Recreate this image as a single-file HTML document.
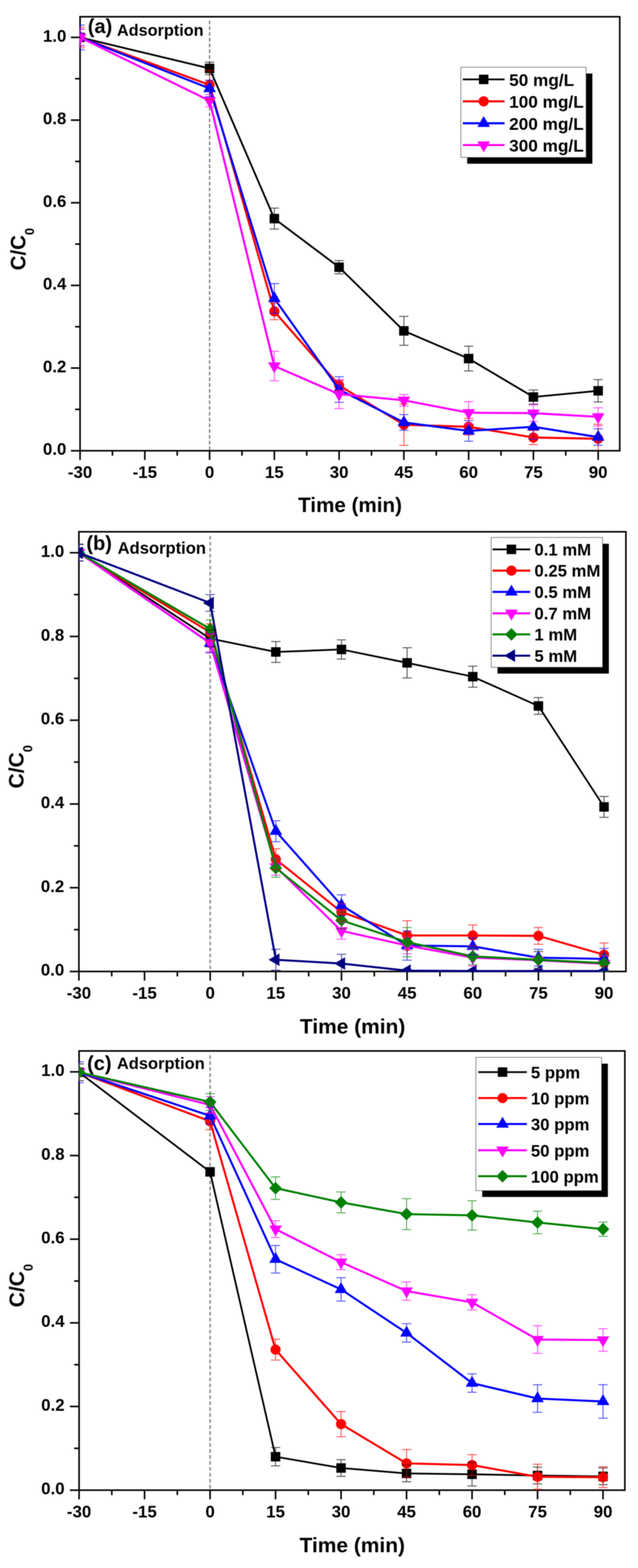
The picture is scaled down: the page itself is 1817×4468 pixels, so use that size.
<!DOCTYPE html>
<html lang="en">
<head>
<meta charset="utf-8">
<title>Adsorption and degradation kinetics</title>
<style>
html,body{margin:0;padding:0;background:#ffffff;}
body{width:1817px;height:4468px;}
figure{margin:0;padding:0;width:1817px;height:4468px;}
svg text{font-family:"Liberation Sans",sans-serif;font-weight:bold;fill:#000;}
</style>
</head>
<body>
<figure>
<svg width="1817" height="4468" viewBox="0 0 1817 4468" style="display:block" font-family='"Liberation Sans", sans-serif' font-weight="bold">
<defs><filter id="soft" x="0" y="0" width="1817" height="4468" filterUnits="userSpaceOnUse" color-interpolation-filters="sRGB"><feGaussianBlur stdDeviation="0.9"/></filter></defs>
<rect x="0" y="0" width="1817" height="4468" fill="#ffffff"/>
<g filter="url(#soft)">
<g id="chart-a">
<clipPath id="clip-a"><rect x="226.10" y="45.80" width="1540.80" height="1240.50"/></clipPath>
<line x1="596.88" y1="58.60" x2="596.88" y2="1284.4" stroke="#505050" stroke-width="2.7" stroke-dasharray="10.6 5.8"/>
<rect x="228.0" y="47.7" width="1537.0" height="1236.7" fill="none" stroke="#000" stroke-width="4.5"/>
<g clip-path="url(#clip-a)">
<polyline points="228.00,106.59 596.88,194.93 781.32,622.94 965.76,761.45 1150.20,942.84 1334.64,1021.75 1519.08,1131.28 1703.52,1113.62" fill="none" stroke="#000000" stroke-width="5.1" stroke-linejoin="round"/>
<rect x="214.50" y="93.09" width="27.00" height="27.00" fill="#000000"/>
<rect x="583.38" y="181.43" width="27.00" height="27.00" fill="#000000"/>
<rect x="767.82" y="609.44" width="27.00" height="27.00" fill="#000000"/>
<rect x="952.26" y="747.95" width="27.00" height="27.00" fill="#000000"/>
<rect x="1136.70" y="929.34" width="27.00" height="27.00" fill="#000000"/>
<rect x="1321.14" y="1008.25" width="27.00" height="27.00" fill="#000000"/>
<rect x="1505.58" y="1117.78" width="27.00" height="27.00" fill="#000000"/>
<rect x="1690.02" y="1100.12" width="27.00" height="27.00" fill="#000000"/>
<polyline points="228.00,106.59 596.88,242.04 781.32,887.48 965.76,1098.31 1150.20,1210.20 1334.64,1216.09 1519.08,1246.71 1703.52,1250.24" fill="none" stroke="#ff0000" stroke-width="5.9" stroke-linejoin="round"/>
<circle cx="228.00" cy="106.59" r="14.50" fill="#ff0000"/>
<circle cx="596.88" cy="242.04" r="14.50" fill="#ff0000"/>
<circle cx="781.32" cy="887.48" r="14.50" fill="#ff0000"/>
<circle cx="965.76" cy="1098.31" r="14.50" fill="#ff0000"/>
<circle cx="1150.20" cy="1210.20" r="14.50" fill="#ff0000"/>
<circle cx="1334.64" cy="1216.09" r="14.50" fill="#ff0000"/>
<circle cx="1519.08" cy="1246.71" r="14.50" fill="#ff0000"/>
<circle cx="1703.52" cy="1250.24" r="14.50" fill="#ff0000"/>
<polyline points="228.00,106.59 596.88,252.05 781.32,850.49 965.76,1110.08 1150.20,1203.72 1334.64,1227.87 1519.08,1216.09 1703.52,1245.53" fill="none" stroke="#0000ff" stroke-width="5.9" stroke-linejoin="round"/>
<polygon points="228.00,85.92 246.00,116.92 210.00,116.92" fill="#0000ff"/>
<polygon points="596.88,231.38 614.88,262.38 578.88,262.38" fill="#0000ff"/>
<polygon points="781.32,829.83 799.32,860.83 763.32,860.83" fill="#0000ff"/>
<polygon points="965.76,1089.42 983.76,1120.42 947.76,1120.42" fill="#0000ff"/>
<polygon points="1150.20,1183.05 1168.20,1214.05 1132.20,1214.05" fill="#0000ff"/>
<polygon points="1334.64,1207.20 1352.64,1238.20 1316.64,1238.20" fill="#0000ff"/>
<polygon points="1519.08,1195.42 1537.08,1226.42 1501.08,1226.42" fill="#0000ff"/>
<polygon points="1703.52,1224.87 1721.52,1255.87 1685.52,1255.87" fill="#0000ff"/>
<polyline points="228.00,106.59 596.88,286.80 781.32,1042.95 965.76,1123.04 1150.20,1140.71 1334.64,1176.04 1519.08,1177.22 1703.52,1187.82" fill="none" stroke="#ff00ff" stroke-width="5.9" stroke-linejoin="round"/>
<polygon points="228.00,127.26 246.00,96.26 210.00,96.26" fill="#ff00ff"/>
<polygon points="596.88,307.46 614.88,276.46 578.88,276.46" fill="#ff00ff"/>
<polygon points="781.32,1063.62 799.32,1032.62 763.32,1032.62" fill="#ff00ff"/>
<polygon points="965.76,1143.71 983.76,1112.71 947.76,1112.71" fill="#ff00ff"/>
<polygon points="1150.20,1161.37 1168.20,1130.37 1132.20,1130.37" fill="#ff00ff"/>
<polygon points="1334.64,1196.71 1352.64,1165.71 1316.64,1165.71" fill="#ff00ff"/>
<polygon points="1519.08,1197.89 1537.08,1166.89 1501.08,1166.89" fill="#ff00ff"/>
<polygon points="1703.52,1208.49 1721.52,1177.49 1685.52,1177.49" fill="#ff00ff"/>
<path d="M228.00,83.03V130.15M214.75,83.03h26.5M214.75,130.15h26.5M596.88,177.26V212.59M583.63,177.26h26.5M583.63,212.59h26.5M781.32,593.03V652.86M768.07,593.03h26.5M768.07,652.86h26.5M965.76,742.61V780.30M952.51,742.61h26.5M952.51,780.30h26.5M1150.20,901.61V984.06M1136.95,901.61h26.5M1136.95,984.06h26.5M1334.64,986.41V1057.08M1321.39,986.41h26.5M1321.39,1057.08h26.5M1519.08,1111.26V1151.31M1505.83,1111.26h26.5M1505.83,1151.31h26.5M1703.52,1081.82V1145.42M1690.27,1081.82h26.5M1690.27,1145.42h26.5" stroke="#000000" stroke-width="2.5" fill="none" opacity="0.72"/>
<path d="M228.00,77.15V136.04M214.75,77.15h26.5M214.75,136.04h26.5M596.88,200.82V283.26M583.63,200.82h26.5M583.63,283.26h26.5M781.32,863.92V911.03M768.07,863.92h26.5M768.07,911.03h26.5M965.76,1084.17V1112.44M952.51,1084.17h26.5M952.51,1112.44h26.5M1150.20,1151.31V1269.09M1136.95,1151.31h26.5M1136.95,1269.09h26.5M1334.64,1192.53V1239.64M1321.39,1192.53h26.5M1321.39,1239.64h26.5M1519.08,1226.69V1266.73M1505.83,1226.69h26.5M1505.83,1266.73h26.5M1703.52,1209.02V1291.47M1690.27,1209.02h26.5M1690.27,1291.47h26.5" stroke="#ff0000" stroke-width="2.5" fill="none" opacity="0.72"/>
<path d="M228.00,71.26V141.92M214.75,71.26h26.5M214.75,141.92h26.5M596.88,228.49V275.61M583.63,228.49h26.5M583.63,275.61h26.5M781.32,808.09V892.90M768.07,808.09h26.5M768.07,892.90h26.5M965.76,1073.57V1146.60M952.51,1073.57h26.5M952.51,1146.60h26.5M1150.20,1181.34V1226.10M1136.95,1181.34h26.5M1136.95,1226.10h26.5M1334.64,1198.42V1257.31M1321.39,1198.42h26.5M1321.39,1257.31h26.5M1519.08,1180.75V1251.42M1505.83,1180.75h26.5M1505.83,1251.42h26.5M1703.52,1221.98V1269.09M1690.27,1221.98h26.5M1690.27,1269.09h26.5" stroke="#0000ff" stroke-width="2.5" fill="none" opacity="0.72"/>
<path d="M228.00,83.03V130.15M214.75,83.03h26.5M214.75,130.15h26.5M596.88,269.13V304.46M583.63,269.13h26.5M583.63,304.46h26.5M781.32,1001.02V1084.88M768.07,1001.02h26.5M768.07,1084.88h26.5M965.76,1081.82V1164.26M952.51,1081.82h26.5M952.51,1164.26h26.5M1150.20,1124.22V1157.20M1136.95,1124.22h26.5M1136.95,1157.20h26.5M1334.64,1144.24V1207.84M1321.39,1144.24h26.5M1321.39,1207.84h26.5M1519.08,1153.66V1200.78M1505.83,1153.66h26.5M1505.83,1200.78h26.5M1703.52,1161.91V1213.73M1690.27,1161.91h26.5M1690.27,1213.73h26.5" stroke="#ff00ff" stroke-width="2.5" fill="none" opacity="0.72"/>
</g>
<text x="228.00" y="1362.40" font-size="48" text-anchor="middle">-30</text>
<text x="412.44" y="1362.40" font-size="48" text-anchor="middle">-15</text>
<text x="596.88" y="1362.40" font-size="48" text-anchor="middle">0</text>
<text x="781.32" y="1362.40" font-size="48" text-anchor="middle">15</text>
<text x="965.76" y="1362.40" font-size="48" text-anchor="middle">30</text>
<text x="1150.20" y="1362.40" font-size="48" text-anchor="middle">45</text>
<text x="1334.64" y="1362.40" font-size="48" text-anchor="middle">60</text>
<text x="1519.08" y="1362.40" font-size="48" text-anchor="middle">75</text>
<text x="1703.52" y="1362.40" font-size="48" text-anchor="middle">90</text>
<text x="189.00" y="1296.40" font-size="48" text-anchor="end">0.0</text>
<text x="189.00" y="1060.84" font-size="48" text-anchor="end">0.2</text>
<text x="189.00" y="825.28" font-size="48" text-anchor="end">0.4</text>
<text x="189.00" y="589.71" font-size="48" text-anchor="end">0.6</text>
<text x="189.00" y="354.15" font-size="48" text-anchor="end">0.8</text>
<text x="189.00" y="118.59" font-size="48" text-anchor="end">1.0</text>
<path d="M228.00,1284.4v26M412.44,1284.4v26M596.88,1284.4v26M781.32,1284.4v26M965.76,1284.4v26M1150.20,1284.4v26M1334.64,1284.4v26M1519.08,1284.4v26M1703.52,1284.4v26M320.22,1284.4v14M504.66,1284.4v14M689.10,1284.4v14M873.54,1284.4v14M1057.98,1284.4v14M1242.42,1284.4v14M1426.86,1284.4v14M1611.30,1284.4v14M228.0,1284.40h-26M228.0,1048.84h-26M228.0,813.28h-26M228.0,577.71h-26M228.0,342.15h-26M228.0,106.59h-26M228.0,1166.62h-14M228.0,931.06h-14M228.0,695.50h-14M228.0,459.93h-14M228.0,224.37h-14" stroke="#000" stroke-width="4.5" fill="none"/>
<text x="996.9" y="1459.3" font-size="58.7" text-anchor="middle">Time (min)</text>
<text transform="translate(72,710) rotate(-90)" font-size="58.3" text-anchor="middle">C/C<tspan font-size="36" dy="24.5">0</tspan></text>
<text x="250" y="93.5" font-size="57">(a)</text>
<text x="333" y="102.3" font-size="46.3">Adsorption</text>
<rect x="1330.5" y="209.5" width="356.5" height="257" fill="#000"/>
<rect x="1312.5" y="191.5" width="356.5" height="257" fill="#fff" stroke="#555" stroke-width="1.6"/>
<line x1="1318" y1="226.3" x2="1437" y2="226.3" stroke="#000000" stroke-width="5.1"/>
<rect x="1364.00" y="212.80" width="27.00" height="27.00" fill="#000000"/>
<text x="1450" y="244.60" font-size="49">50 mg/L</text>
<line x1="1318" y1="288.8" x2="1437" y2="288.8" stroke="#ff0000" stroke-width="5.9"/>
<circle cx="1377.50" cy="288.80" r="14.50" fill="#ff0000"/>
<text x="1450" y="307.10" font-size="49">100 mg/L</text>
<line x1="1318" y1="351.3" x2="1437" y2="351.3" stroke="#0000ff" stroke-width="5.9"/>
<polygon points="1377.50,330.63 1395.50,361.63 1359.50,361.63" fill="#0000ff"/>
<text x="1450" y="369.60" font-size="49">200 mg/L</text>
<line x1="1318" y1="413.4" x2="1437" y2="413.4" stroke="#ff00ff" stroke-width="5.9"/>
<polygon points="1377.50,434.07 1395.50,403.07 1359.50,403.07" fill="#ff00ff"/>
<text x="1450" y="431.70" font-size="49">300 mg/L</text>
</g>
<g id="chart-b">
<clipPath id="clip-b"><rect x="222.80" y="1513.40" width="1561.70" height="1256.70"/></clipPath>
<line x1="598.60" y1="1527.30" x2="598.60" y2="2768.2" stroke="#8c8c8c" stroke-width="4.4" stroke-dasharray="10.2 6.8"/>
<rect x="224.7" y="1515.3" width="1557.8999999999999" height="1252.8999999999999" fill="none" stroke="#000" stroke-width="4.5"/>
<g clip-path="url(#clip-b)">
<polyline points="224.70,1574.96 598.60,1819.58 785.54,1857.76 972.49,1850.60 1159.44,1888.78 1346.39,1928.16 1533.34,2011.69 1720.28,2299.26" fill="none" stroke="#000000" stroke-width="5.0" stroke-linejoin="round"/>
<rect x="211.20" y="1561.46" width="27.00" height="27.00" fill="#000000"/>
<rect x="585.10" y="1806.08" width="27.00" height="27.00" fill="#000000"/>
<rect x="772.04" y="1844.26" width="27.00" height="27.00" fill="#000000"/>
<rect x="958.99" y="1837.10" width="27.00" height="27.00" fill="#000000"/>
<rect x="1145.94" y="1875.28" width="27.00" height="27.00" fill="#000000"/>
<rect x="1332.89" y="1914.66" width="27.00" height="27.00" fill="#000000"/>
<rect x="1519.84" y="1998.19" width="27.00" height="27.00" fill="#000000"/>
<rect x="1706.78" y="2285.76" width="27.00" height="27.00" fill="#000000"/>
<polyline points="224.70,1574.96 598.60,1801.68 785.54,2448.41 972.49,2598.76 1159.44,2665.58 1346.39,2665.58 1533.34,2666.77 1720.28,2720.47" fill="none" stroke="#ff0000" stroke-width="5.8" stroke-linejoin="round"/>
<circle cx="224.70" cy="1574.96" r="14.50" fill="#ff0000"/>
<circle cx="598.60" cy="1801.68" r="14.50" fill="#ff0000"/>
<circle cx="785.54" cy="2448.41" r="14.50" fill="#ff0000"/>
<circle cx="972.49" cy="2598.76" r="14.50" fill="#ff0000"/>
<circle cx="1159.44" cy="2665.58" r="14.50" fill="#ff0000"/>
<circle cx="1346.39" cy="2665.58" r="14.50" fill="#ff0000"/>
<circle cx="1533.34" cy="2666.77" r="14.50" fill="#ff0000"/>
<circle cx="1720.28" cy="2720.47" r="14.50" fill="#ff0000"/>
<polyline points="224.70,1574.96 598.60,1832.70 785.54,2368.47 972.49,2579.67 1159.44,2694.22 1346.39,2696.61 1533.34,2728.82 1720.28,2732.40" fill="none" stroke="#0000ff" stroke-width="5.8" stroke-linejoin="round"/>
<polygon points="224.70,1554.30 242.70,1585.30 206.70,1585.30" fill="#0000ff"/>
<polygon points="598.60,1812.03 616.60,1843.03 580.60,1843.03" fill="#0000ff"/>
<polygon points="785.54,2347.80 803.54,2378.80 767.54,2378.80" fill="#0000ff"/>
<polygon points="972.49,2559.00 990.49,2590.00 954.49,2590.00" fill="#0000ff"/>
<polygon points="1159.44,2673.55 1177.44,2704.55 1141.44,2704.55" fill="#0000ff"/>
<polygon points="1346.39,2675.94 1364.39,2706.94 1328.39,2706.94" fill="#0000ff"/>
<polygon points="1533.34,2708.16 1551.34,2739.16 1515.34,2739.16" fill="#0000ff"/>
<polygon points="1720.28,2711.74 1738.28,2742.74 1702.28,2742.74" fill="#0000ff"/>
<polyline points="224.70,1574.96 598.60,1832.10 785.54,2469.89 972.49,2652.46 1159.44,2694.22 1346.39,2728.82 1533.34,2735.98 1720.28,2746.72" fill="none" stroke="#ff00ff" stroke-width="5.8" stroke-linejoin="round"/>
<polygon points="224.70,1595.63 242.70,1564.63 206.70,1564.63" fill="#ff00ff"/>
<polygon points="598.60,1852.77 616.60,1821.77 580.60,1821.77" fill="#ff00ff"/>
<polygon points="785.54,2490.56 803.54,2459.56 767.54,2459.56" fill="#ff00ff"/>
<polygon points="972.49,2673.12 990.49,2642.12 954.49,2642.12" fill="#ff00ff"/>
<polygon points="1159.44,2714.89 1177.44,2683.89 1141.44,2683.89" fill="#ff00ff"/>
<polygon points="1346.39,2749.49 1364.39,2718.49 1328.39,2718.49" fill="#ff00ff"/>
<polygon points="1533.34,2756.65 1551.34,2725.65 1515.34,2725.65" fill="#ff00ff"/>
<polygon points="1720.28,2767.39 1738.28,2736.39 1702.28,2736.39" fill="#ff00ff"/>
<polyline points="224.70,1574.96 598.60,1792.13 785.54,2473.47 972.49,2622.62 1159.44,2684.67 1346.39,2725.24 1533.34,2734.79 1720.28,2744.34" fill="none" stroke="#008000" stroke-width="5.8" stroke-linejoin="round"/>
<polygon points="224.70,1556.96 242.70,1574.96 224.70,1592.96 206.70,1574.96" fill="#008000"/>
<polygon points="598.60,1774.13 616.60,1792.13 598.60,1810.13 580.60,1792.13" fill="#008000"/>
<polygon points="785.54,2455.47 803.54,2473.47 785.54,2491.47 767.54,2473.47" fill="#008000"/>
<polygon points="972.49,2604.62 990.49,2622.62 972.49,2640.62 954.49,2622.62" fill="#008000"/>
<polygon points="1159.44,2666.67 1177.44,2684.67 1159.44,2702.67 1141.44,2684.67" fill="#008000"/>
<polygon points="1346.39,2707.24 1364.39,2725.24 1346.39,2743.24 1328.39,2725.24" fill="#008000"/>
<polygon points="1533.34,2716.79 1551.34,2734.79 1533.34,2752.79 1515.34,2734.79" fill="#008000"/>
<polygon points="1720.28,2726.34 1738.28,2744.34 1720.28,2762.34 1702.28,2744.34" fill="#008000"/>
<polyline points="224.70,1574.96 598.60,1718.15 785.54,2734.79 972.49,2745.53 1159.44,2765.81 1346.39,2767.01 1533.34,2767.01 1720.28,2767.01" fill="none" stroke="#000080" stroke-width="5.8" stroke-linejoin="round"/>
<polygon points="204.03,1574.96 235.03,1556.96 235.03,1592.96" fill="#000080"/>
<polygon points="577.93,1718.15 608.93,1700.15 608.93,1736.15" fill="#000080"/>
<polygon points="764.88,2734.79 795.88,2716.79 795.88,2752.79" fill="#000080"/>
<polygon points="951.83,2745.53 982.83,2727.53 982.83,2763.53" fill="#000080"/>
<polygon points="1138.77,2765.81 1169.77,2747.81 1169.77,2783.81" fill="#000080"/>
<polygon points="1325.72,2767.01 1356.72,2749.01 1356.72,2785.01" fill="#000080"/>
<polygon points="1512.67,2767.01 1543.67,2749.01 1543.67,2785.01" fill="#000080"/>
<polygon points="1699.62,2767.01 1730.62,2749.01 1730.62,2785.01" fill="#000080"/>
<path d="M224.70,1551.10V1598.83M211.45,1551.10h26.5M211.45,1598.83h26.5M598.60,1795.71V1843.44M585.35,1795.71h26.5M585.35,1843.44h26.5M785.54,1827.93V1887.59M772.29,1827.93h26.5M772.29,1887.59h26.5M972.49,1823.16V1878.04M959.24,1823.16h26.5M959.24,1878.04h26.5M1159.44,1845.83V1931.74M1146.19,1845.83h26.5M1146.19,1931.74h26.5M1346.39,1898.33V1957.99M1333.14,1898.33h26.5M1333.14,1957.99h26.5M1533.34,1987.82V2035.55M1520.09,1987.82h26.5M1520.09,2035.55h26.5M1720.28,2269.43V2329.09M1707.03,2269.43h26.5M1707.03,2329.09h26.5" stroke="#000000" stroke-width="2.5" fill="none" opacity="0.72"/>
<path d="M224.70,1551.10V1598.83M211.45,1551.10h26.5M211.45,1598.83h26.5M598.60,1777.81V1825.54M585.35,1777.81h26.5M585.35,1825.54h26.5M785.54,2418.58V2478.24M772.29,2418.58h26.5M772.29,2478.24h26.5M972.49,2574.90V2622.62M959.24,2574.90h26.5M959.24,2622.62h26.5M1159.44,2623.82V2707.34M1146.19,2623.82h26.5M1146.19,2707.34h26.5M1346.39,2635.75V2695.41M1333.14,2635.75h26.5M1333.14,2695.41h26.5M1533.34,2642.91V2690.64M1520.09,2642.91h26.5M1520.09,2690.64h26.5M1720.28,2687.06V2753.88M1707.03,2687.06h26.5M1707.03,2753.88h26.5" stroke="#ff0000" stroke-width="2.5" fill="none" opacity="0.72"/>
<path d="M224.70,1551.10V1598.83M211.45,1551.10h26.5M211.45,1598.83h26.5M598.60,1805.26V1860.15M585.35,1805.26h26.5M585.35,1860.15h26.5M785.54,2338.63V2398.30M772.29,2338.63h26.5M772.29,2398.30h26.5M972.49,2549.84V2609.50M959.24,2549.84h26.5M959.24,2609.50h26.5M1159.44,2652.46V2735.98M1146.19,2652.46h26.5M1146.19,2735.98h26.5M1346.39,2672.74V2720.47M1333.14,2672.74h26.5M1333.14,2720.47h26.5M1533.34,2704.96V2752.69M1520.09,2704.96h26.5M1520.09,2752.69h26.5M1720.28,2702.57V2762.23M1707.03,2702.57h26.5M1707.03,2762.23h26.5" stroke="#0000ff" stroke-width="2.5" fill="none" opacity="0.72"/>
<path d="M224.70,1551.10V1598.83M211.45,1551.10h26.5M211.45,1598.83h26.5M598.60,1807.05V1857.16M585.35,1807.05h26.5M585.35,1857.16h26.5M785.54,2446.03V2493.76M772.29,2446.03h26.5M772.29,2493.76h26.5M972.49,2628.59V2676.32M959.24,2628.59h26.5M959.24,2676.32h26.5M1159.44,2670.35V2718.08M1146.19,2670.35h26.5M1146.19,2718.08h26.5M1346.39,2704.96V2752.69M1333.14,2704.96h26.5M1333.14,2752.69h26.5M1533.34,2712.12V2759.85M1520.09,2712.12h26.5M1520.09,2759.85h26.5M1720.28,2722.86V2770.59M1707.03,2722.86h26.5M1707.03,2770.59h26.5" stroke="#ff00ff" stroke-width="2.5" fill="none" opacity="0.72"/>
<path d="M224.70,1551.10V1598.83M211.45,1551.10h26.5M211.45,1598.83h26.5M598.60,1765.88V1818.38M585.35,1765.88h26.5M585.35,1818.38h26.5M785.54,2447.22V2499.72M772.29,2447.22h26.5M772.29,2499.72h26.5M972.49,2598.76V2646.49M959.24,2598.76h26.5M959.24,2646.49h26.5M1159.44,2642.91V2726.44M1146.19,2642.91h26.5M1146.19,2726.44h26.5M1346.39,2701.38V2749.11M1333.14,2701.38h26.5M1333.14,2749.11h26.5M1533.34,2710.92V2758.65M1520.09,2710.92h26.5M1520.09,2758.65h26.5M1720.28,2720.47V2768.20M1707.03,2720.47h26.5M1707.03,2768.20h26.5" stroke="#008000" stroke-width="2.5" fill="none" opacity="0.72"/>
<path d="M224.70,1551.10V1598.83M211.45,1551.10h26.5M211.45,1598.83h26.5M598.60,1694.29V1742.02M585.35,1694.29h26.5M585.35,1742.02h26.5M785.54,2704.96V2764.62M772.29,2704.96h26.5M772.29,2764.62h26.5M972.49,2719.28V2771.78M959.24,2719.28h26.5M959.24,2771.78h26.5M1159.44,2762.23V2769.39M1146.19,2762.23h26.5M1146.19,2769.39h26.5M1346.39,2763.43V2770.59M1333.14,2763.43h26.5M1333.14,2770.59h26.5M1533.34,2763.43V2770.59M1520.09,2763.43h26.5M1520.09,2770.59h26.5M1720.28,2763.43V2770.59M1707.03,2763.43h26.5M1707.03,2770.59h26.5" stroke="#000080" stroke-width="2.5" fill="none" opacity="0.72"/>
</g>
<text x="224.70" y="2846.20" font-size="48" text-anchor="middle">-30</text>
<text x="411.65" y="2846.20" font-size="48" text-anchor="middle">-15</text>
<text x="598.60" y="2846.20" font-size="48" text-anchor="middle">0</text>
<text x="785.54" y="2846.20" font-size="48" text-anchor="middle">15</text>
<text x="972.49" y="2846.20" font-size="48" text-anchor="middle">30</text>
<text x="1159.44" y="2846.20" font-size="48" text-anchor="middle">45</text>
<text x="1346.39" y="2846.20" font-size="48" text-anchor="middle">60</text>
<text x="1533.34" y="2846.20" font-size="48" text-anchor="middle">75</text>
<text x="1720.28" y="2846.20" font-size="48" text-anchor="middle">90</text>
<text x="183.00" y="2780.20" font-size="48" text-anchor="end">0.0</text>
<text x="183.00" y="2541.55" font-size="48" text-anchor="end">0.2</text>
<text x="183.00" y="2302.90" font-size="48" text-anchor="end">0.4</text>
<text x="183.00" y="2064.26" font-size="48" text-anchor="end">0.6</text>
<text x="183.00" y="1825.61" font-size="48" text-anchor="end">0.8</text>
<text x="183.00" y="1586.96" font-size="48" text-anchor="end">1.0</text>
<path d="M224.70,2768.2v26M411.65,2768.2v26M598.60,2768.2v26M785.54,2768.2v26M972.49,2768.2v26M1159.44,2768.2v26M1346.39,2768.2v26M1533.34,2768.2v26M1720.28,2768.2v26M318.17,2768.2v14M505.12,2768.2v14M692.07,2768.2v14M879.02,2768.2v14M1065.97,2768.2v14M1252.91,2768.2v14M1439.86,2768.2v14M1626.81,2768.2v14M224.7,2768.20h-26M224.7,2529.55h-26M224.7,2290.90h-26M224.7,2052.26h-26M224.7,1813.61h-26M224.7,1574.96h-26M224.7,2648.88h-14M224.7,2410.23h-14M224.7,2171.58h-14M224.7,1932.93h-14M224.7,1694.29h-14" stroke="#000" stroke-width="4.5" fill="none"/>
<text x="1004.2" y="2945" font-size="59.6" text-anchor="middle">Time (min)</text>
<text transform="translate(66.8,2185) rotate(-90)" font-size="60" text-anchor="middle">C/C<tspan font-size="36" dy="24.5">0</tspan></text>
<text x="246" y="1566.8" font-size="57">(b)</text>
<text x="335" y="1578.2" font-size="47.2">Adsorption</text>
<rect x="1416.8" y="1549.5" width="317.2" height="369.8" fill="#000"/>
<rect x="1398.8" y="1531.5" width="317.2" height="369.8" fill="#fff" stroke="#555" stroke-width="1.6"/>
<line x1="1402.6" y1="1565.4" x2="1510" y2="1565.4" stroke="#000000" stroke-width="5.0"/>
<rect x="1443.00" y="1551.90" width="27.00" height="27.00" fill="#000000"/>
<text x="1522" y="1582.70" font-size="47.6">0.1 mM</text>
<line x1="1402.6" y1="1626" x2="1510" y2="1626" stroke="#ff0000" stroke-width="5.8"/>
<circle cx="1456.50" cy="1626.00" r="14.50" fill="#ff0000"/>
<text x="1522" y="1643.30" font-size="47.6">0.25 mM</text>
<line x1="1402.6" y1="1686.6" x2="1510" y2="1686.6" stroke="#0000ff" stroke-width="5.8"/>
<polygon points="1456.50,1665.93 1474.50,1696.93 1438.50,1696.93" fill="#0000ff"/>
<text x="1522" y="1703.90" font-size="47.6">0.5 mM</text>
<line x1="1402.6" y1="1747.6" x2="1510" y2="1747.6" stroke="#ff00ff" stroke-width="5.8"/>
<polygon points="1456.50,1768.27 1474.50,1737.27 1438.50,1737.27" fill="#ff00ff"/>
<text x="1522" y="1764.90" font-size="47.6">0.7 mM</text>
<line x1="1402.6" y1="1807.7" x2="1510" y2="1807.7" stroke="#008000" stroke-width="5.8"/>
<polygon points="1456.50,1789.70 1474.50,1807.70 1456.50,1825.70 1438.50,1807.70" fill="#008000"/>
<text x="1522" y="1825.00" font-size="47.6">1 mM</text>
<line x1="1402.6" y1="1868.3" x2="1510" y2="1868.3" stroke="#000080" stroke-width="5.8"/>
<polygon points="1435.83,1868.30 1466.83,1850.30 1466.83,1886.30" fill="#000080"/>
<text x="1522" y="1885.60" font-size="47.6">5 mM</text>
</g>
<g id="chart-c">
<clipPath id="clip-c"><rect x="223.30" y="2992.80" width="1558.20" height="1255.30"/></clipPath>
<line x1="598.26" y1="3007.20" x2="598.26" y2="4246.2" stroke="#8c8c8c" stroke-width="4.4" stroke-dasharray="10.2 6.8"/>
<rect x="225.2" y="2994.7" width="1554.3999999999999" height="1251.5" fill="none" stroke="#000" stroke-width="4.5"/>
<g clip-path="url(#clip-c)">
<polyline points="225.20,3055.50 598.26,3339.17 784.78,4150.86 971.31,4183.04 1157.84,4198.53 1344.37,4200.92 1530.90,4204.49 1717.42,4206.88" fill="none" stroke="#000000" stroke-width="5.0" stroke-linejoin="round"/>
<rect x="211.70" y="3042.00" width="27.00" height="27.00" fill="#000000"/>
<rect x="584.76" y="3325.67" width="27.00" height="27.00" fill="#000000"/>
<rect x="771.28" y="4137.36" width="27.00" height="27.00" fill="#000000"/>
<rect x="957.81" y="4169.54" width="27.00" height="27.00" fill="#000000"/>
<rect x="1144.34" y="4185.03" width="27.00" height="27.00" fill="#000000"/>
<rect x="1330.87" y="4187.42" width="27.00" height="27.00" fill="#000000"/>
<rect x="1517.40" y="4190.99" width="27.00" height="27.00" fill="#000000"/>
<rect x="1703.92" y="4193.38" width="27.00" height="27.00" fill="#000000"/>
<polyline points="225.20,3055.50 598.26,3194.95 784.78,3845.73 971.31,4057.89 1157.84,4169.93 1344.37,4174.69 1530.90,4208.07 1717.42,4209.26" fill="none" stroke="#ff0000" stroke-width="5.8" stroke-linejoin="round"/>
<circle cx="225.20" cy="3055.50" r="14.50" fill="#ff0000"/>
<circle cx="598.26" cy="3194.95" r="14.50" fill="#ff0000"/>
<circle cx="784.78" cy="3845.73" r="14.50" fill="#ff0000"/>
<circle cx="971.31" cy="4057.89" r="14.50" fill="#ff0000"/>
<circle cx="1157.84" cy="4169.93" r="14.50" fill="#ff0000"/>
<circle cx="1344.37" cy="4174.69" r="14.50" fill="#ff0000"/>
<circle cx="1530.90" cy="4208.07" r="14.50" fill="#ff0000"/>
<circle cx="1717.42" cy="4209.26" r="14.50" fill="#ff0000"/>
<polyline points="225.20,3055.50 598.26,3179.45 784.78,3588.28 971.31,3674.09 1157.84,3798.05 1344.37,3941.08 1530.90,3985.18 1717.42,3993.52" fill="none" stroke="#0000ff" stroke-width="5.8" stroke-linejoin="round"/>
<polygon points="225.20,3034.83 243.20,3065.83 207.20,3065.83" fill="#0000ff"/>
<polygon points="598.26,3158.79 616.26,3189.79 580.26,3189.79" fill="#0000ff"/>
<polygon points="784.78,3567.61 802.78,3598.61 766.78,3598.61" fill="#0000ff"/>
<polygon points="971.31,3653.43 989.31,3684.43 953.31,3684.43" fill="#0000ff"/>
<polygon points="1157.84,3777.39 1175.84,3808.39 1139.84,3808.39" fill="#0000ff"/>
<polygon points="1344.37,3920.41 1362.37,3951.41 1326.37,3951.41" fill="#0000ff"/>
<polygon points="1530.90,3964.51 1548.90,3995.51 1512.90,3995.51" fill="#0000ff"/>
<polygon points="1717.42,3972.86 1735.42,4003.86 1699.42,4003.86" fill="#0000ff"/>
<polyline points="225.20,3055.50 598.26,3148.46 784.78,3502.46 971.31,3596.62 1157.84,3678.86 1344.37,3711.04 1530.90,3817.12 1717.42,3818.31" fill="none" stroke="#ff00ff" stroke-width="5.8" stroke-linejoin="round"/>
<polygon points="225.20,3076.16 243.20,3045.16 207.20,3045.16" fill="#ff00ff"/>
<polygon points="598.26,3169.13 616.26,3138.13 580.26,3138.13" fill="#ff00ff"/>
<polygon points="784.78,3523.13 802.78,3492.13 766.78,3492.13" fill="#ff00ff"/>
<polygon points="971.31,3617.29 989.31,3586.29 953.31,3586.29" fill="#ff00ff"/>
<polygon points="1157.84,3699.53 1175.84,3668.53 1139.84,3668.53" fill="#ff00ff"/>
<polygon points="1344.37,3731.71 1362.37,3700.71 1326.37,3700.71" fill="#ff00ff"/>
<polygon points="1530.90,3837.79 1548.90,3806.79 1512.90,3806.79" fill="#ff00ff"/>
<polygon points="1717.42,3838.98 1735.42,3807.98 1699.42,3807.98" fill="#ff00ff"/>
<polyline points="225.20,3055.50 598.26,3140.12 784.78,3385.65 971.31,3426.18 1157.84,3459.55 1344.37,3463.13 1530.90,3483.39 1717.42,3502.46" fill="none" stroke="#008000" stroke-width="5.8" stroke-linejoin="round"/>
<polygon points="225.20,3037.50 243.20,3055.50 225.20,3073.50 207.20,3055.50" fill="#008000"/>
<polygon points="598.26,3122.12 616.26,3140.12 598.26,3158.12 580.26,3140.12" fill="#008000"/>
<polygon points="784.78,3367.65 802.78,3385.65 784.78,3403.65 766.78,3385.65" fill="#008000"/>
<polygon points="971.31,3408.18 989.31,3426.18 971.31,3444.18 953.31,3426.18" fill="#008000"/>
<polygon points="1157.84,3441.55 1175.84,3459.55 1157.84,3477.55 1139.84,3459.55" fill="#008000"/>
<polygon points="1344.37,3445.13 1362.37,3463.13 1344.37,3481.13 1326.37,3463.13" fill="#008000"/>
<polygon points="1530.90,3465.39 1548.90,3483.39 1530.90,3501.39 1512.90,3483.39" fill="#008000"/>
<polygon points="1717.42,3484.46 1735.42,3502.46 1717.42,3520.46 1699.42,3502.46" fill="#008000"/>
<path d="M225.20,3031.66V3079.33M211.95,3031.66h26.5M211.95,3079.33h26.5M598.26,3329.63V3348.70M585.01,3329.63h26.5M585.01,3348.70h26.5M784.78,4124.63V4177.08M771.53,4124.63h26.5M771.53,4177.08h26.5M971.31,4159.20V4206.88M958.06,4159.20h26.5M958.06,4206.88h26.5M1157.84,4174.69V4222.37M1144.59,4174.69h26.5M1144.59,4222.37h26.5M1344.37,4167.54V4234.29M1331.12,4167.54h26.5M1331.12,4234.29h26.5M1530.90,4180.65V4228.33M1517.65,4180.65h26.5M1517.65,4228.33h26.5M1717.42,4183.04V4230.71M1704.17,4183.04h26.5M1704.17,4230.71h26.5" stroke="#000000" stroke-width="2.5" fill="none" opacity="0.72"/>
<path d="M225.20,3031.66V3079.33M211.95,3031.66h26.5M211.95,3079.33h26.5M598.26,3171.11V3218.79M585.01,3171.11h26.5M585.01,3218.79h26.5M784.78,3815.93V3875.53M771.53,3815.93h26.5M771.53,3875.53h26.5M971.31,4022.13V4093.64M958.06,4022.13h26.5M958.06,4093.64h26.5M1157.84,4130.59V4209.26M1144.59,4130.59h26.5M1144.59,4209.26h26.5M1344.37,4144.90V4204.49M1331.12,4144.90h26.5M1331.12,4204.49h26.5M1530.90,4172.31V4243.82M1517.65,4172.31h26.5M1517.65,4243.82h26.5M1717.42,4179.46V4239.06M1704.17,4179.46h26.5M1704.17,4239.06h26.5" stroke="#ff0000" stroke-width="2.5" fill="none" opacity="0.72"/>
<path d="M225.20,3025.70V3085.29M211.95,3025.70h26.5M211.95,3085.29h26.5M598.26,3155.62V3203.29M585.01,3155.62h26.5M585.01,3203.29h26.5M784.78,3548.94V3627.61M771.53,3548.94h26.5M771.53,3627.61h26.5M971.31,3640.72V3707.47M958.06,3640.72h26.5M958.06,3707.47h26.5M1157.84,3771.83V3824.27M1144.59,3771.83h26.5M1144.59,3824.27h26.5M1344.37,3914.86V3967.30M1331.12,3914.86h26.5M1331.12,3967.30h26.5M1530.90,3945.85V4024.51M1517.65,3945.85h26.5M1517.65,4024.51h26.5M1717.42,3945.85V4041.20M1704.17,3945.85h26.5M1704.17,4041.20h26.5" stroke="#0000ff" stroke-width="2.5" fill="none" opacity="0.72"/>
<path d="M225.20,3031.66V3079.33M211.95,3031.66h26.5M211.95,3079.33h26.5M598.26,3124.63V3172.30M585.01,3124.63h26.5M585.01,3172.30h26.5M784.78,3478.62V3526.30M771.53,3478.62h26.5M771.53,3526.30h26.5M971.31,3575.17V3618.07M958.06,3575.17h26.5M958.06,3618.07h26.5M1157.84,3652.64V3705.08M1144.59,3652.64h26.5M1144.59,3705.08h26.5M1344.37,3689.59V3732.50M1331.12,3689.59h26.5M1331.12,3732.50h26.5M1530.90,3777.79V3856.46M1517.65,3777.79h26.5M1517.65,3856.46h26.5M1717.42,3786.13V3850.50M1704.17,3786.13h26.5M1704.17,3850.50h26.5" stroke="#ff00ff" stroke-width="2.5" fill="none" opacity="0.72"/>
<path d="M225.20,3031.66V3079.33M211.95,3031.66h26.5M211.95,3079.33h26.5M598.26,3116.28V3163.96M585.01,3116.28h26.5M585.01,3163.96h26.5M784.78,3353.47V3417.83M771.53,3353.47h26.5M771.53,3417.83h26.5M971.31,3396.38V3455.98M958.06,3396.38h26.5M958.06,3455.98h26.5M1157.84,3415.45V3503.65M1144.59,3415.45h26.5M1144.59,3503.65h26.5M1344.37,3421.41V3504.84M1331.12,3421.41h26.5M1331.12,3504.84h26.5M1530.90,3451.21V3515.57M1517.65,3451.21h26.5M1517.65,3515.57h26.5M1717.42,3482.20V3522.72M1704.17,3482.20h26.5M1704.17,3522.72h26.5" stroke="#008000" stroke-width="2.5" fill="none" opacity="0.72"/>
</g>
<text x="225.20" y="4324.20" font-size="48" text-anchor="middle">-30</text>
<text x="411.73" y="4324.20" font-size="48" text-anchor="middle">-15</text>
<text x="598.26" y="4324.20" font-size="48" text-anchor="middle">0</text>
<text x="784.78" y="4324.20" font-size="48" text-anchor="middle">15</text>
<text x="971.31" y="4324.20" font-size="48" text-anchor="middle">30</text>
<text x="1157.84" y="4324.20" font-size="48" text-anchor="middle">45</text>
<text x="1344.37" y="4324.20" font-size="48" text-anchor="middle">60</text>
<text x="1530.90" y="4324.20" font-size="48" text-anchor="middle">75</text>
<text x="1717.42" y="4324.20" font-size="48" text-anchor="middle">90</text>
<text x="184.00" y="4258.20" font-size="48" text-anchor="end">0.0</text>
<text x="184.00" y="4019.82" font-size="48" text-anchor="end">0.2</text>
<text x="184.00" y="3781.44" font-size="48" text-anchor="end">0.4</text>
<text x="184.00" y="3543.06" font-size="48" text-anchor="end">0.6</text>
<text x="184.00" y="3304.68" font-size="48" text-anchor="end">0.8</text>
<text x="184.00" y="3066.30" font-size="48" text-anchor="end">1.0</text>
<path d="M225.20,4246.2v26M411.73,4246.2v26M598.26,4246.2v26M784.78,4246.2v26M971.31,4246.2v26M1157.84,4246.2v26M1344.37,4246.2v26M1530.90,4246.2v26M1717.42,4246.2v26M318.46,4246.2v14M504.99,4246.2v14M691.52,4246.2v14M878.05,4246.2v14M1064.58,4246.2v14M1251.10,4246.2v14M1437.63,4246.2v14M1624.16,4246.2v14M225.2,4246.20h-26M225.2,4007.82h-26M225.2,3769.44h-26M225.2,3531.06h-26M225.2,3292.68h-26M225.2,3054.30h-26M225.2,4127.01h-14M225.2,3888.63h-14M225.2,3650.25h-14M225.2,3411.87h-14M225.2,3173.49h-14" stroke="#000" stroke-width="4.5" fill="none"/>
<text x="1003.3" y="4422.6" font-size="59.6" text-anchor="middle">Time (min)</text>
<text transform="translate(68.2,3663.5) rotate(-90)" font-size="60" text-anchor="middle">C/C<tspan font-size="36" dy="24.5">0</tspan></text>
<text x="248" y="3049" font-size="57">(c)</text>
<text x="333" y="3046.2" font-size="46.9">Adsorption</text>
<rect x="1373.3" y="3030.9" width="357.9" height="379.8" fill="#000"/>
<rect x="1355.3" y="3012.9" width="357.9" height="379.8" fill="#fff" stroke="#555" stroke-width="1.6"/>
<line x1="1362" y1="3054.9" x2="1500.4" y2="3054.9" stroke="#000000" stroke-width="5.0"/>
<rect x="1417.70" y="3041.40" width="27.00" height="27.00" fill="#000000"/>
<text x="1512" y="3073.20" font-size="47.6">5 ppm</text>
<line x1="1362" y1="3128.9" x2="1500.4" y2="3128.9" stroke="#ff0000" stroke-width="5.8"/>
<circle cx="1431.20" cy="3128.90" r="14.50" fill="#ff0000"/>
<text x="1512" y="3147.20" font-size="47.6">10 ppm</text>
<line x1="1362" y1="3202.8" x2="1500.4" y2="3202.8" stroke="#0000ff" stroke-width="5.8"/>
<polygon points="1431.20,3182.13 1449.20,3213.13 1413.20,3213.13" fill="#0000ff"/>
<text x="1512" y="3221.10" font-size="47.6">30 ppm</text>
<line x1="1362" y1="3277.7" x2="1500.4" y2="3277.7" stroke="#ff00ff" stroke-width="5.8"/>
<polygon points="1431.20,3298.37 1449.20,3267.37 1413.20,3267.37" fill="#ff00ff"/>
<text x="1512" y="3296.00" font-size="47.6">50 ppm</text>
<line x1="1362" y1="3351.7" x2="1500.4" y2="3351.7" stroke="#008000" stroke-width="5.8"/>
<polygon points="1431.20,3333.70 1449.20,3351.70 1431.20,3369.70 1413.20,3351.70" fill="#008000"/>
<text x="1512" y="3370.00" font-size="47.6">100 ppm</text>
</g>
</g>
</svg>
</figure>
</body>
</html>
